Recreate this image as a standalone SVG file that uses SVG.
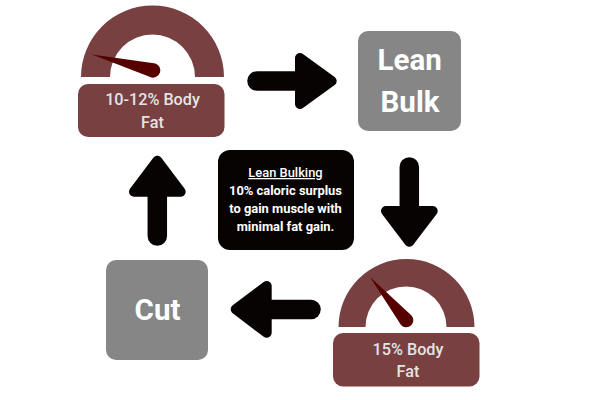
<svg xmlns="http://www.w3.org/2000/svg" width="600" height="400" viewBox="0 0 600 400">
<style>
text{font-family:Roboto,"Liberation Sans",sans-serif;text-anchor:middle}
.g{fill:#784040}.n{fill:#570000}.s{fill:#868686}
.l{fill:#e4e4e4;font-size:16.200px;font-weight:500}
.b{fill:#fff;font-size:29.500px;font-weight:700}
.t{fill:#fff;font-size:12.900px;font-weight:700}
.a{fill:#070303;stroke:#070303;stroke-width:10;stroke-linejoin:round}
.c{stroke:#070303;stroke-width:19.500;stroke-linecap:round;fill:none}
</style>
<rect width="600" height="400" fill="#fff"/>
<g id="connectors">
<path class="c" d="M257 81H305"/><path class="a" d="M300 58L331.700 81L300 104Z"/>
<path class="c" d="M409.300 167V215"/><path class="a" d="M386 211L409.300 241.700L432.700 211Z"/>
<path class="c" d="M311 309.500H262"/><path class="a" d="M266.700 286L235.700 309.300L266.700 332.700Z"/>
<path class="c" d="M157.300 236V190"/><path class="a" d="M134 191.700L157.300 160.700L180.700 191.700Z"/>
</g>
<g id="gauge-top">
<path class="g" d="M81 77A71.500 71.500 0 0 1 224 77H195A42.500 42.500 0 0 0 110 77Z"/>
<path class="n" d="M92 54.500L155.500 63.500A7.300 7.300 0 0 1 151.500 77.500Z"/>
<rect class="g" x="78" y="84" width="146.500" height="53" rx="10"/>
<text class="l" x="152.500" y="105">10-12% Body</text><text class="l" x="152.500" y="128">Fat</text>
</g>
<g id="lean-bulk">
<rect class="s" x="358" y="31" width="103" height="100" rx="10"/>
<text class="b" x="409.700" y="69.500">Lean</text><text class="b" x="410" y="111.500">Bulk</text>
</g>
<g id="info">
<rect x="218" y="150" width="136" height="100" rx="12" fill="#070303"/>
<text class="t" x="285.500" y="177" text-decoration="underline" style="font-weight:500">Lean Bulking</text>
<text class="t" x="285.500" y="195">10% caloric surplus</text>
<text class="t" x="285.500" y="213">to gain muscle with</text>
<text class="t" x="285.500" y="231">minimal fat gain.</text>
</g>
<g id="gauge-bottom">
<path class="g" d="M338.500 327A68 68 0 0 1 474.500 327H446.500A40.500 40.500 0 0 0 365.500 327Z"/>
<path class="n" d="M370 277L411.500 315.500A6.800 6.800 0 0 1 401 325Z"/>
<rect class="g" x="333" y="333" width="146.500" height="53.500" rx="10"/>
<text class="l" x="408" y="355">15% Body</text><text class="l" x="408" y="377">Fat</text>
</g>
<g id="cut">
<rect class="s" x="106" y="260" width="102" height="100" rx="10"/>
<text class="b" x="157.500" y="319.500">Cut</text>
</g>
</svg>
